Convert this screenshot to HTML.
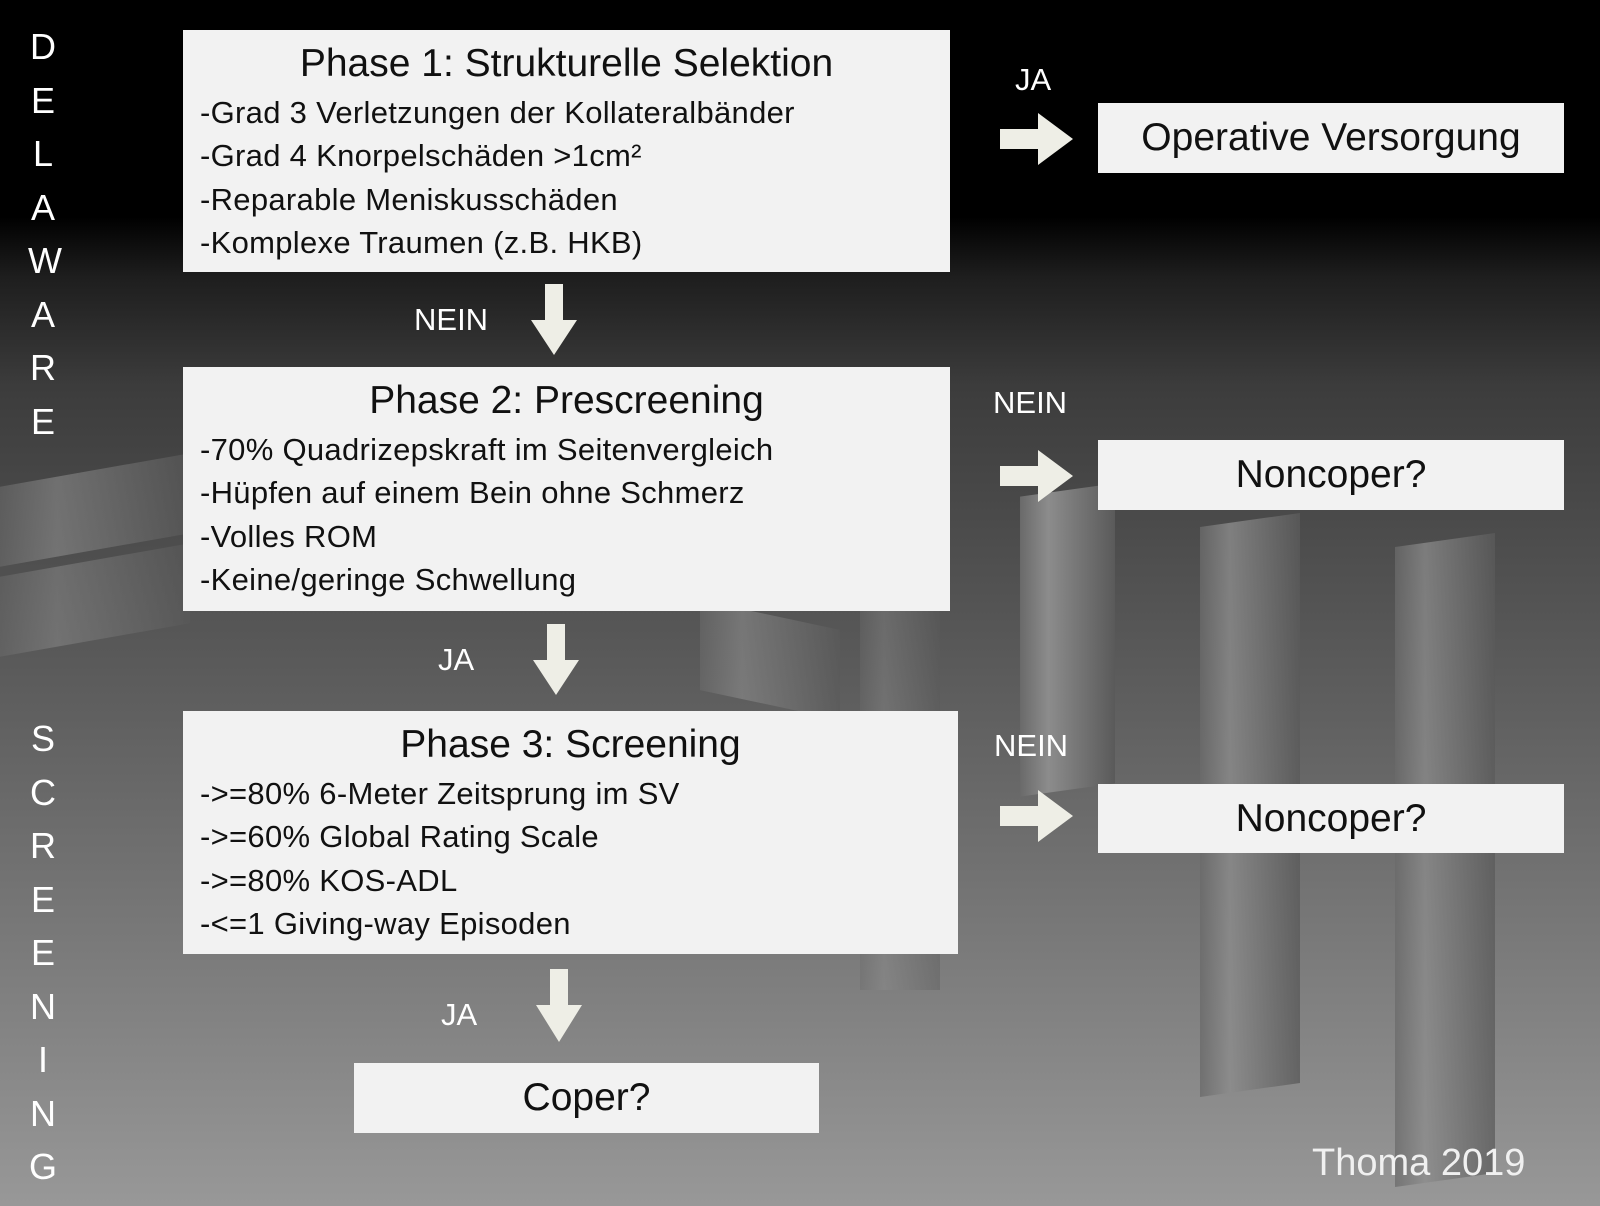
<!DOCTYPE html>
<html><head><meta charset="utf-8"><style>
body{margin:0;width:1600px;height:1206px;overflow:hidden;font-family:"Liberation Sans",sans-serif;}
#bg{position:absolute;left:0;top:0;width:1600px;height:1206px;background:linear-gradient(180deg,#000 0%,#000 18%,#1e1e1e 23%,#3c3c3c 32%,#5a5a5a 55%,#7c7c7c 80%,#989898 100%);overflow:hidden}
.box{position:absolute;background:#f2f2f2;color:#111;}
.t{text-align:center;font-size:39px;}
.l{font-size:31px;padding-left:17px;line-height:43.4px;letter-spacing:0.3px}
.lab{position:absolute;color:#fff;font-size:31px}
.v{position:absolute;left:28px;color:#fff;font-size:36px;width:30px;text-align:center}
.dom{position:absolute;background:linear-gradient(90deg,#6a6a6a,#8c8c8c 30%,#5a5a5a);}
</style></head><body>
<div id="bg">
<div class="dom" style="left:1020px;top:490px;width:95px;height:300px;transform:skewY(-8deg)"></div>
<div class="dom" style="left:1200px;top:520px;width:100px;height:570px;transform:skewY(-8deg);opacity:.8"></div>
<div class="dom" style="left:1395px;top:540px;width:100px;height:640px;transform:skewY(-8deg);opacity:.75"></div>
<div class="dom" style="left:0;top:470px;width:190px;height:80px;transform:skewY(-10deg);opacity:.6"></div>
<div class="dom" style="left:0;top:560px;width:190px;height:80px;transform:skewY(-10deg);opacity:.5"></div>
<div class="dom" style="left:700px;top:615px;width:140px;height:90px;transform:skewY(12deg);opacity:.6"></div>
<div class="dom" style="left:860px;top:610px;width:80px;height:380px;opacity:.4"></div>
</div>
<div class="v" style="top:20px;line-height:53.5px">D<br>E<br>L<br>A<br>W<br>A<br>R<br>E</div>
<div class="v" style="top:712px;line-height:53.5px">S<br>C<br>R<br>E<br>E<br>N<br>I<br>N<br>G</div>

<div class="box" style="left:183px;top:30px;width:767px;height:242px">
<div class="t" style="margin-top:13px;line-height:42px">Phase 1: Strukturelle Selektion</div>
<div class="l" style="margin-top:6px">-Grad 3 Verletzungen der Kollateralbänder<br>-Grad 4 Knorpelschäden &gt;1cm²<br>-Reparable Meniskusschäden<br>-Komplexe Traumen (z.B. HKB)</div></div>

<div class="box" style="left:183px;top:367px;width:767px;height:244px">
<div class="t" style="margin-top:13px;line-height:42px">Phase 2: Prescreening</div>
<div class="l" style="margin-top:6px">-70% Quadrizepskraft im Seitenvergleich<br>-Hüpfen auf einem Bein ohne Schmerz<br>-Volles ROM<br>-Keine/geringe Schwellung</div></div>

<div class="box" style="left:183px;top:711px;width:775px;height:243px">
<div class="t" style="margin-top:13px;line-height:42px">Phase 3: Screening</div>
<div class="l" style="margin-top:6px">-&gt;=80% 6-Meter Zeitsprung im SV<br>-&gt;=60% Global Rating Scale<br>-&gt;=80% KOS-ADL<br>-&lt;=1 Giving-way Episoden</div></div>

<div class="box t" style="left:1098px;top:103px;width:466px;height:70px;line-height:70px">Operative Versorgung</div>
<div class="box t" style="left:1098px;top:440px;width:466px;height:70px;line-height:70px">Noncoper?</div>
<div class="box t" style="left:1098px;top:784px;width:466px;height:69px;line-height:69px">Noncoper?</div>
<div class="box t" style="left:354px;top:1063px;width:465px;height:70px;line-height:70px">Coper?</div>

<div class="lab" style="left:1015px;top:62px">JA</div>
<div class="lab" style="left:993px;top:385px">NEIN</div>
<div class="lab" style="left:994px;top:728px">NEIN</div>
<div class="lab" style="left:414px;top:302px">NEIN</div>
<div class="lab" style="left:438px;top:642px">JA</div>
<div class="lab" style="left:441px;top:997px">JA</div>
<div class="lab" style="left:1312px;top:1142px;font-size:38px;color:#f0f0f0">Thoma 2019</div>

<svg width="1600" height="1206" style="position:absolute;left:0;top:0">
<g fill="#eeeee6">
<path d="M1000,129h38v-16l35,26l-35,26v-16h-38z"/>
<path d="M1000,466h38v-16l35,26l-35,26v-16h-38z"/>
<path d="M1000,806h38v-16l35,26l-35,26v-16h-38z"/>
<path d="M545,284h18v36h14l-23,35l-23,-35h14z"/>
<path d="M547,624h18v36h14l-23,35l-23,-35h14z"/>
<path d="M550,969h18v36h14l-23,37l-23,-37h14z"/>
</g></svg>
</body></html>
